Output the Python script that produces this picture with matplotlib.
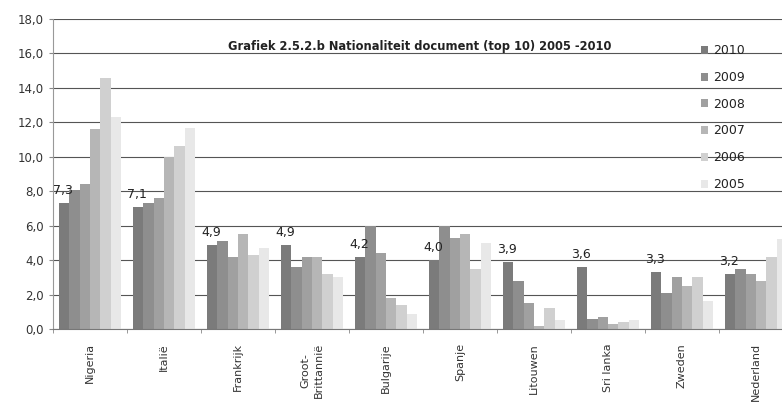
import numpy as np
import matplotlib
matplotlib.use('Agg')
import matplotlib.pyplot as plt

countries = ['Nigeria', 'Italië', 'Frankrijk', 'Groot-\nBrittannië', 'Bulgarije',
             'Spanje', 'Litouwen', 'Sri lanka', 'Zweden', 'Nederland']
years = ['2010', '2009', '2008', '2007', '2006', '2005']

v2010 = [7.3, 7.1, 4.9, 4.9, 4.2, 4.0, 3.9, 3.6, 3.3, 3.2]
v2009 = [8.1, 7.3, 5.1, 3.6, 6.0, 6.0, 2.8, 0.6, 2.1, 3.5]
v2008 = [8.4, 7.6, 4.2, 4.2, 4.4, 5.3, 1.5, 0.7, 3.0, 3.2]
v2007 = [11.6, 10.0, 5.5, 4.2, 1.8, 5.5, 0.2, 0.3, 2.5, 2.8]
v2006 = [14.6, 10.6, 4.3, 3.2, 1.4, 3.5, 1.2, 0.4, 3.0, 4.2]
v2005 = [12.3, 11.7, 4.7, 3.0, 0.9, 5.0, 0.5, 0.5, 1.6, 5.2]
labels_2010 = ['7,3', '7,1', '4,9', '4,9', '4,2', '4,0', '3,9', '3,6', '3,3', '3,2']

series = [v2010, v2009, v2008, v2007, v2006, v2005]
colors = ['#7b7b7b', '#8e8e8e', '#a0a0a0', '#b6b6b6', '#d0d0d0', '#e8e8e8']

fig = plt.figure(figsize=(7.82, 4.17), dpi=100)
ax = fig.add_axes([53 / 782, 88 / 417, 740 / 782, 310 / 417])

x = np.arange(len(countries))
w = 0.14
for i, (vals, c, yr) in enumerate(zip(series, colors, years)):
    ax.bar(x + (i - 2.5) * w, vals, width=w, color=c, label=yr, zorder=2)

# data labels for 2010 only
for xi, v, lab in zip(x, v2010, labels_2010):
    ax.text(xi - 2.6 * w, v + 0.35, lab, ha='center', va='bottom',
            fontsize=9, color='#222222', zorder=3)

ax.set_ylim(0, 18)
ax.set_xlim(-0.5, len(countries) - 0.5)
yt = np.arange(0, 18.1, 2)
ax.set_yticks(yt)
ax.set_yticklabels([f'{t:.1f}'.replace('.', ',') for t in yt],
                   fontsize=8.5, color='#333333')
ax.yaxis.grid(True, color='#555555', linewidth=0.8, zorder=0)
ax.set_axisbelow(True)

ax.set_xticks(x)
ax.set_xticklabels(countries, rotation=90, fontsize=8, color='#333333',
                   linespacing=1.4)
ax.tick_params(axis='x', length=0, pad=10)
ax.set_xticks(np.arange(-0.5, len(countries), 1), minor=True)
ax.tick_params(axis='x', which='minor', length=3, color='#888888')
ax.tick_params(axis='y', length=3, color='#888888')

for s in ['top', 'right']:
    ax.spines[s].set_visible(False)
ax.spines['left'].set_color('#999999')
ax.spines['bottom'].set_color('#777777')

ax.text(0.496, 0.912, 'Grafiek 2.5.2.b Nationaliteit document (top 10) 2005 -2010',
        transform=ax.transAxes, ha='center', va='center', fontsize=8.3,
        fontweight='bold', color='#222222')

leg = ax.legend(loc='upper left', bbox_to_anchor=(0.86, 0.955), frameon=False,
                fontsize=9, handlelength=0.6, handleheight=0.6,
                labelspacing=1.1, handletextpad=0.4)
for t in leg.get_texts():
    t.set_color('#222222')

fig.savefig('out.png', dpi=100)
